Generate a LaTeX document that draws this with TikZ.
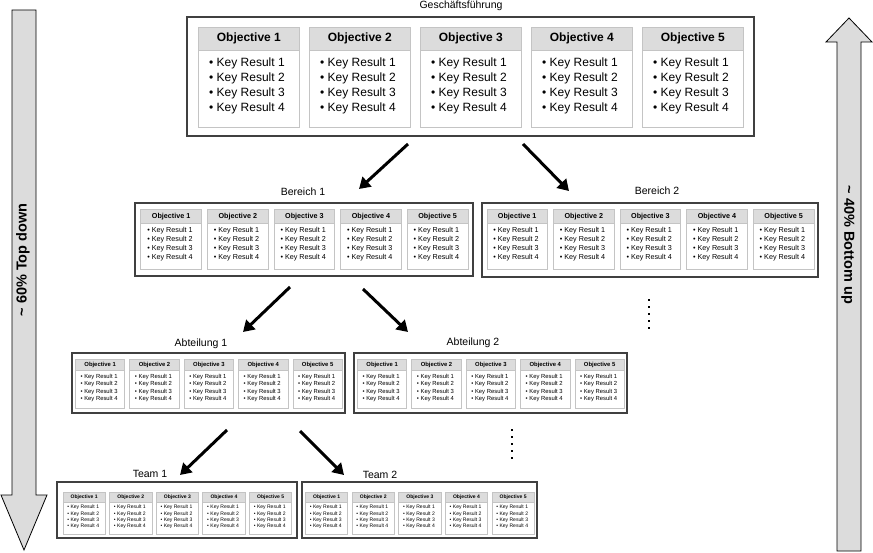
\documentclass[tikz,border=0pt]{standalone}
\usepackage{fontspec}
\setmainfont{Liberation Sans}
\usetikzlibrary{arrows.meta}
\definecolor{hdr}{HTML}{DCDCDC}
\definecolor{cardline}{HTML}{C4C4C4}
\definecolor{frame}{HTML}{404040}
\tikzset{
  outerbox/.style={draw=frame, line width=1.4pt, fill=white, inner sep=0pt},
  cardhead/.style={draw=cardline, fill=hdr, line width=0.8pt, inner sep=0pt, anchor=north west},
  cardbody/.style={draw=cardline, fill=white, line width=0.8pt, inner sep=0pt, anchor=north west},
  krtext/.style={inner sep=0pt, anchor=base west},
  flow/.style={line width=3pt, -{Triangle[length=11pt,width=13pt]}},
  grouplabel/.style={inner sep=0pt, font=\fontsize{10.5}{12}\selectfont},
  sidearrow/.style={draw=black, fill=hdr, line width=0.8pt},
  sidetext/.style={inner sep=0pt, font=\fontsize{14.5}{16}\selectfont\bfseries},
  dotmark/.style={rectangle, fill=black, inner sep=0pt, minimum size=2.4pt},
}
% #1 name, #2 x1, #3 y1, #4 x2, #5 y2, #6 scale, #7 card top
\newcommand\okrgroup[7]{%
  \pgfmathsetmacro\okrgw{#4-#2}%
  \pgfmathsetmacro\okrgh{#5-#3}%
  \node[outerbox, minimum width=\okrgw pt, minimum height=\okrgh pt] (#1) at ({(#2+#4)/2},{(#3+#5)/2}) {};
  \pgfmathsetmacro\okrcw{101*#6}%
  \pgfmathsetmacro\okrcp{111*#6}%
  \pgfmathsetmacro\okrhh{23*#6}%
  \pgfmathsetmacro\okrbh{77*#6}%
  \pgfmathsetmacro\okrcx{(#2+#4)/2-(4*\okrcp+\okrcw)/2}%
  \pgfmathsetmacro\okrfs{12*#6}%
  \pgfmathsetmacro\okrls{15*#6}%
  \pgfmathsetmacro\okrind{11*#6}%
  \pgfmathsetmacro\okrfirst{17*#6}%
  \foreach \i in {1,...,5}{%
    \pgfmathsetmacro\okrxx{\okrcx+(\i-1)*\okrcp}%
    \node[cardhead, minimum width=\okrcw pt, minimum height=\okrhh pt,
      font=\fontsize{\okrfs}{\okrfs}\selectfont\bfseries] (#1-h\i) at (\okrxx,#7) {Objective \i};
    \node[cardbody, minimum width=\okrcw pt, minimum height=\okrbh pt] (#1-b\i) at (\okrxx,{#7+\okrhh}) {};
    \foreach \k in {1,...,4}{%
      \node[krtext, font=\fontsize{\okrfs}{\okrfs}\selectfont] (#1-k\i-\k)
        at ({\okrxx+\okrind},{#7+\okrhh+\okrfirst+(\k-1)*\okrls}) {• Key Result \k};
    }
  }
}
\begin{document}
\begin{tikzpicture}[x=1pt,y=-1pt]
\useasboundingbox (0,0) rectangle (873,553);

% side arrows
\draw[sidearrow] (12,10) -- (36,10) -- (36,495) -- (47,495) -- (24,550) -- (1,495) -- (12,495) -- cycle;
\node[sidetext, rotate=90] (topdown) at (23,260) {\char`\~{} 60\% Top down};
\draw[sidearrow] (849,18) -- (872,42) -- (861,42) -- (861,551) -- (837,551) -- (837,42) -- (826,42) -- cycle;
\node[sidetext, rotate=-90] (bottomup) at (848,245) {\char`\~{} 40\% Bottom up};

% groups
\okrgroup{gf}{187}{17}{754}{136}{1}{27}
\node[grouplabel] (gflabel) at (461,6) {Geschäftsführung};

\okrgroup{bA}{135}{203}{473}{276}{0.6}{209}
\node[grouplabel] (bAlabel) at (303,192) {Bereich 1};
\okrgroup{bB}{482}{203}{818}{277}{0.6}{209}
\node[grouplabel] (bBlabel) at (657,191) {Bereich 2};

\okrgroup{aA}{72}{353}{345}{413}{0.49}{359}
\node[grouplabel] (aAlabel) at (201,344) {Abteilung 1};
\okrgroup{aB}{354}{353}{627}{413}{0.49}{359}
\node[grouplabel] (aBlabel) at (473,343) {Abteilung 2};

\okrgroup{tA}{57}{482}{297}{538}{0.42}{492}
\node[grouplabel] (tAlabel) at (150,474) {Team 1};
\okrgroup{tB}{302}{482}{537}{538}{0.42}{492}
\node[grouplabel] (tBlabel) at (380,475) {Team 2};

% flow arrows
\coordinate (f1s) at (408,144); \coordinate (f1e) at (359,189);
\coordinate (f2s) at (523,144); \coordinate (f2e) at (569,191);
\coordinate (f3s) at (290,287); \coordinate (f3e) at (243,332);
\coordinate (f4s) at (363,289); \coordinate (f4e) at (408,332);
\coordinate (f5s) at (227,430); \coordinate (f5e) at (180,475);
\coordinate (f6s) at (300,431); \coordinate (f6e) at (344,475);
\draw[flow] (f1s) -- (f1e);
\draw[flow] (f2s) -- (f2e);
\draw[flow] (f3s) -- (f3e);
\draw[flow] (f4s) -- (f4e);
\draw[flow] (f5s) -- (f5e);
\draw[flow] (f6s) -- (f6e);

% continuation dots
\foreach \j in {0,...,4}{
  \node[dotmark] (dA\j) at (649,{300+7*\j}) {};
  \node[dotmark] (dB\j) at (512,{430+7*\j}) {};
}
\end{tikzpicture}
\end{document}
